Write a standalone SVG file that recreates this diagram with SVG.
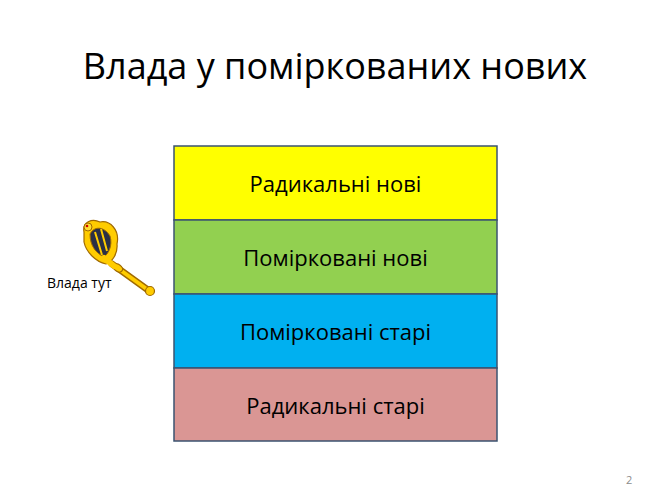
<svg xmlns="http://www.w3.org/2000/svg" width="671" height="503" viewBox="0 0 671 503">
<style>
.t{font-family:"Open Sans","Liberation Sans",sans-serif;fill:#000}
.box{stroke:#3b5370;stroke-width:1.5}
.lbl{font-size:22px;text-anchor:middle}
.gold{fill:#ffcc00;stroke:#a06a00;stroke-width:1.2}
</style>
<rect width="671" height="503" fill="#fff"/>
<text class="t" x="335" y="79" font-size="36" text-anchor="middle">Влада у поміркованих нових</text>
<g id="n1"><rect class="box" x="174" y="146" width="323" height="74" fill="#ffff00"/><text class="t lbl" x="335.5" y="192">Радикальні нові</text></g>
<g id="n2"><rect class="box" x="174" y="220" width="323" height="74" fill="#92d050"/><text class="t lbl" x="335.5" y="266">Помірковані нові</text></g>
<g id="n3"><rect class="box" x="174" y="294" width="323" height="74" fill="#00b0f0"/><text class="t lbl" x="335.5" y="340">Помірковані старі</text></g>
<g id="n4"><rect class="box" x="174" y="368" width="323" height="73" fill="#da9694"/><text class="t lbl" x="335.5" y="414">Радикальні старі</text></g>
<g id="scepter">
<path d="M112 264 L148 290" stroke="#a06a00" stroke-width="7" stroke-linecap="round"/>
<path d="M112 264 L148 290" stroke="#ffcc00" stroke-width="4" stroke-linecap="round"/>
<circle cx="150" cy="291" r="4.5" class="gold"/>
<ellipse cx="118" cy="268" rx="5" ry="3.5" transform="rotate(36 118 268)" class="gold"/>
<path d="M84 232 C82 222 92 218 100 222 C110 220 120 230 117 244 C118 254 112 262 106 264 C96 262 86 252 84 242 Z" class="gold"/>
<path d="M90 234 C94 226 104 226 110 236 C113 246 108 254 104 257 C96 253 90 246 90 234 Z" fill="#2a2f45" stroke="#a06a00" stroke-width="1"/>
<path d="M95 232 L102 255 M101 229 L107 251" stroke="#ffcc00" stroke-width="2"/>
<circle cx="88" cy="227" r="4" fill="#ffdd33" stroke="#a06a00" stroke-width="1"/>
<circle cx="87" cy="226" r="1.3" fill="#c00"/>
<path d="M104 258 L114 266" stroke="#ffcc00" stroke-width="6" stroke-linecap="round"/>
</g>
<text class="t" x="47" y="288" font-size="14">Влада тут</text>
<text class="t" x="626" y="484" font-size="11" style="fill:#8c8c8c">2</text>
</svg>
